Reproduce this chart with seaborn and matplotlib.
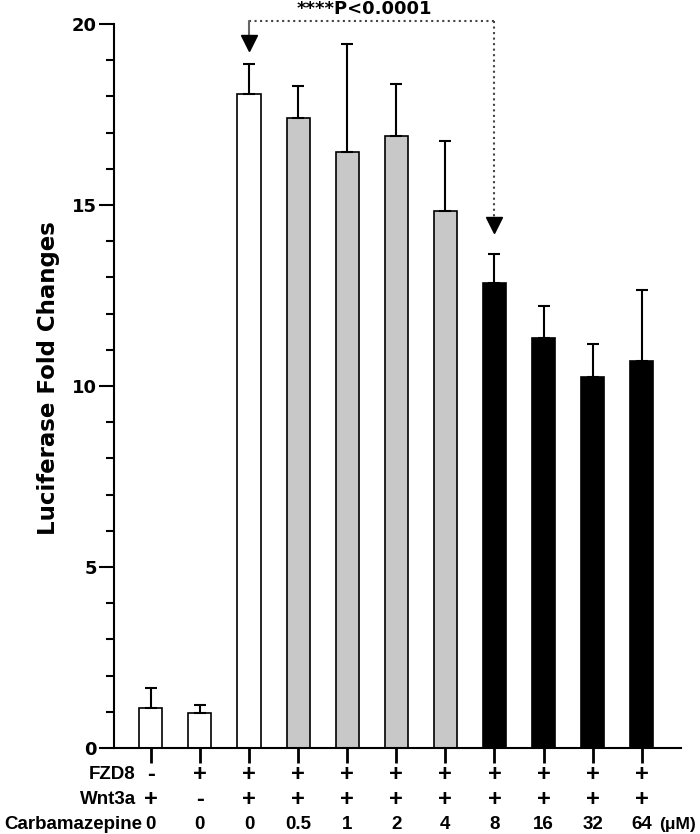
import numpy as np
import pandas as pd
import seaborn as sns
import matplotlib.pyplot as plt

# treatment table (one column per bar)
fzd8 = ['-', '+', '+', '+', '+', '+', '+', '+', '+', '+', '+']
wnt3a = ['+', '-', '+', '+', '+', '+', '+', '+', '+', '+', '+']
carbamazepine = ['0', '0', '0', '0.5', '1', '2', '4', '8', '16', '32', '64']

# luciferase fold change, mean and upper error
means = [1.10, 0.96, 18.07, 17.40, 16.46, 16.90, 14.83, 12.84, 11.32, 10.26, 10.70]
errors = [0.57, 0.23, 0.83, 0.89, 2.99, 1.43, 1.95, 0.80, 0.88, 0.91, 1.95]

bar_colors = ['white'] * 3 + ['#c8c8c8'] * 4 + ['black'] * 4

df = pd.DataFrame({'pos': np.arange(len(means)), 'fold': means})

sns.set_style('ticks')
plt.rcParams['font.family'] = ['DejaVu Sans']
plt.rcParams['font.weight'] = 'bold'
for k in ['text.color', 'axes.labelcolor', 'xtick.color', 'ytick.color', 'axes.edgecolor']:
    plt.rcParams[k] = 'black'

fig = plt.figure(figsize=(7, 8.34), dpi=100)
ax = fig.add_axes([114 / 700, 1 - 748 / 834, 567 / 700, 724 / 834])

sns.barplot(data=df, x='pos', y='fold', hue='pos', palette=bar_colors,
            legend=False, width=0.47, edgecolor='black', linewidth=1.2,
            errorbar=None, ax=ax)
ax.errorbar(df['pos'], df['fold'], yerr=[np.zeros(len(errors)), errors],
            fmt='none', ecolor='black', elinewidth=1.5, capsize=4, capthick=1.5,
            zorder=1)

ax.set_xlim(-0.75, 10.8)
ax.set_ylim(0, 20)
ax.set_yticks([0, 5, 10, 15, 20])
ax.set_yticks(np.arange(0, 21, 1), minor=True)
ax.tick_params(axis='y', which='major', length=11, width=1.5, labelsize=13, pad=1.5)
ax.tick_params(axis='y', which='minor', length=5.5, width=1.5)
ax.tick_params(axis='x', length=11, width=2, labelbottom=False)
for lab in ax.get_yticklabels():
    lab.set_fontweight('bold')
for s in ['left', 'bottom']:
    ax.spines[s].set_linewidth(1.5)
sns.despine(ax=ax)
ax.set_xlabel('')
ax.set_ylabel('')
ax.text(-0.115, 0.511, 'Luciferase Fold Changes', transform=ax.transAxes,
        rotation=90, ha='center', va='center', fontsize=16.5, fontweight='bold')

# treatment rows under the axis
lib = ['Liberation Sans', 'DejaVu Sans']
trans = ax.get_xaxis_transform()
rows = [('FZD8', fzd8, -0.037, -0.305), ('Wnt3a', wnt3a, -0.0718, -0.305),
        ('Carbamazepine', carbamazepine, -0.105, -0.18)]
for name, vals, yy, xr in rows:
    ax.text(xr, yy, name, transform=trans, ha='right', va='center', family=lib,
            fontsize=13.5, fontweight='bold', clip_on=False)
    for i, v in enumerate(vals):
        fs = 17 if v in ('+', '-') else 13.5
        ax.text(i, yy, v, transform=trans, ha='center', va='center', family=lib,
                fontsize=fs, fontweight='bold', clip_on=False)
ax.text(10.36, -0.105, '(\u03bcM)', transform=trans, ha='left', va='center',
        family=lib, fontsize=12.5, fontweight='bold', clip_on=False)

# significance bracket
top = 20.09
ax.plot([2, 7], [top, top], ls=':', color='#444444', lw=1.5, clip_on=False)
ax.plot([2, 2], [top, 19.6], ls='-', color='#666666', lw=1.5, clip_on=False)
ax.plot([7, 7], [top, 14.6], ls=':', color='#444444', lw=1.5, clip_on=False)
ax.plot([2], [19.48], marker='v', color='black', markersize=12, clip_on=False)
ax.plot([7], [14.45], marker='v', color='black', markersize=12, clip_on=False)
ax.text(4.36, 20.42, '****P<0.0001', ha='center', va='center',
        fontsize=13, fontweight='bold', clip_on=False)

fig.savefig('out.png', dpi=100)
